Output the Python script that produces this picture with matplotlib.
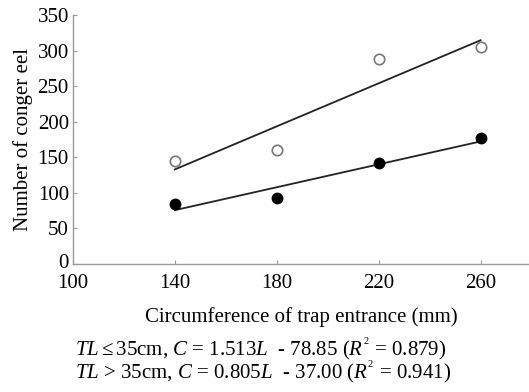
import matplotlib
matplotlib.use("Agg")
import matplotlib.pyplot as plt
import matplotlib.transforms as mtransforms
import numpy as np

plt.rcParams['font.family'] = ['Liberation Serif', 'DejaVu Serif']
plt.rcParams['mathtext.fontset'] = 'custom'
plt.rcParams['mathtext.rm'] = 'Liberation Serif'
plt.rcParams['mathtext.it'] = 'Liberation Serif:italic'

circumference = [140, 180, 220, 260]
small_eel = [145, 160, 288, 305]    # TL <= 35cm (open circles)
large_eel = [84, 93, 142, 177]      # TL > 35cm (filled circles)
small_fit = (1.513, -78.85)
large_fit = (0.805, -37.00)
xticks = [100, 140, 180, 220, 260]
yticks = [0, 50, 100, 150, 200, 250, 300, 350]

fig = plt.figure(figsize=(5.29, 3.92), dpi=100)
ax = fig.add_axes([73/529, 1-264/392, 1-73/529, (264-15)/392])

xs = np.array([circumference[0], circumference[-1]])
ax.plot(xs, small_fit[0]*xs + small_fit[1], color='#222222', lw=1.3, zorder=2)
ax.plot(xs, large_fit[0]*xs + large_fit[1], color='#222222', lw=1.3, zorder=2)
ax.plot(circumference, small_eel, 'o', ms=7.5, mfc='white', mec='#777777', mew=1.2, zorder=3)
ax.plot(circumference, large_eel, 'o', ms=7.5, mfc='black', mec='black', zorder=3)

ax.set_xlim(100, 279)
ax.set_ylim(0, 350)
ax.set_xticks(xticks)
ax.set_yticks(yticks)
for s in ['top', 'right']:
    ax.spines[s].set_visible(False)
for s in ['left', 'bottom']:
    ax.spines[s].set_color('#999999')
    ax.spines[s].set_linewidth(1.0)
ax.tick_params(direction='in', length=3, color='#999999', labelsize=15)
ax.tick_params(axis='x', pad=7)
ax.tick_params(axis='y', pad=3)
ax.set_xlabel('Circumference of trap entrance (mm)', fontsize=15, labelpad=10)
ax.set_ylabel('Number of conger eel', fontsize=15, labelpad=3)

# lift the "0" label slightly so it sits above the x tick labels, as in the reference
zero_label = ax.get_yticklabels()[0]
zero_label.set_transform(zero_label.get_transform() +
                         mtransforms.ScaledTranslation(0, 3/100, fig.dpi_scale_trans))

eq_text = (r'$TL\leq$35cm, $C$ = 1.513$L$  - 78.85 ($R^{\mathregular{^2}}$ = 0.879)' + '\n' +
           r'$TL$ > 35cm, $C$ = 0.805$L$  - 37.00 ($R^{\mathregular{^2}}$ = 0.941)')
fig.text(75/529, 1-379/392, eq_text, fontsize=15, va='baseline', ha='left',
         linespacing=0.8, multialignment='left')

fig.savefig('out.png', dpi=100)
